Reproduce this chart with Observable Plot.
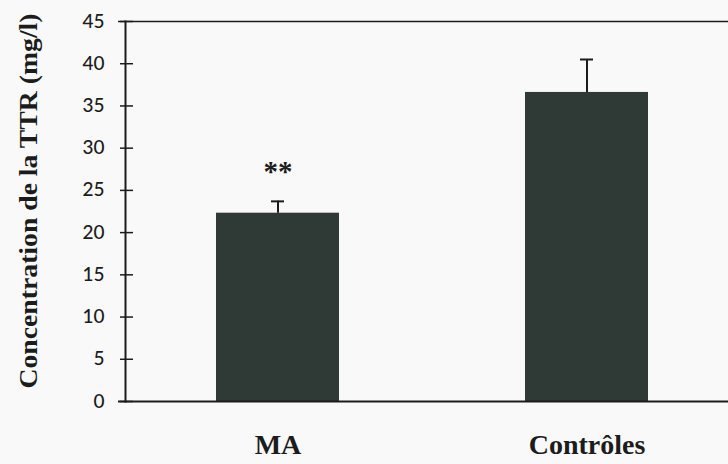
<!DOCTYPE html>
<html>
<head>
<meta charset="utf-8">
<script src="https://cdn.jsdelivr.net/npm/d3@7"></script>
<script src="https://cdn.jsdelivr.net/npm/@observablehq/plot@0.6"></script>
<style>
  html, body { margin: 0; padding: 0; background: #f8f9f8; overflow: hidden; }
  #chart svg { display: block; background: #f8f9f8; }
</style>
</head>
<body>
<div id="chart"></div>
<script>
// Data
const groups = ["MA", "Contrôles"];
const means = [22.3, 36.6];
const errors = [1.4, 3.9];
const significance = ["**", ""];
const yTicks = [0, 5, 10, 15, 20, 25, 30, 35, 40, 45];
const yLabel = "Concentration de la TTR (mg/l)";

const data = groups.map((g, i) => ({
  group: g,
  mean: means[i],
  upper: means[i] + errors[i],
  sig: significance[i]
}));

const serif = "'Liberation Serif', 'Times New Roman', serif";
const ink = "#1c1c1c";

const plot = Plot.plot({
  width: 728,
  height: 464,
  marginLeft: 125,
  marginRight: 0,
  marginTop: 21,
  marginBottom: 63,
  style: { background: "#f8f9f8", color: ink, overflow: "hidden" },
  x: { type: "band", domain: groups, range: [125, 739], paddingInner: 0.602, paddingOuter: 0.2945 },
  y: { domain: [0, 45] },
  marks: [
    Plot.barY(data, { x: "group", y: "mean", fill: "#2f3936" }),
    Plot.ruleX(data, { x: "group", y1: "mean", y2: "upper", stroke: ink, strokeWidth: 2 }),
    Plot.tickY(data, { x: "group", y: "upper", stroke: ink, strokeWidth: 2, insetLeft: 55, insetRight: 55 }),
    Plot.text(data, { x: "group", y: "upper", text: "sig", dy: -30, fontSize: 29, fontWeight: "bold", fontFamily: serif, fill: ink }),
    Plot.ruleY([0], { stroke: ink, strokeWidth: 2, insetLeft: -7 }),
    Plot.ruleY([45], { stroke: ink, strokeWidth: 1.5, insetLeft: -7 }),
    Plot.frame({ anchor: "left", stroke: ink, strokeWidth: 2 }),
    Plot.axisY({ ticks: yTicks, tickSize: 13, dx: 8, tickFormat: () => "", label: null, stroke: ink, strokeWidth: 1.5 }),
    Plot.axisY({ ticks: yTicks, tickSize: 0, tickPadding: 21, label: null, fontSize: 19, fontWeight: 500, fontFamily: "Lato, 'Liberation Sans', sans-serif", fill: ink }),
    Plot.axisX({ tickSize: 0, tickPadding: 33, label: null, fontSize: 28, fontWeight: "bold", fontFamily: serif, fill: ink, className: "xlab" }),
    Plot.text([yLabel], { frameAnchor: "left", textAnchor: "middle", lineAnchor: "middle", rotate: -90, dx: -97, dy: -10.5, fontSize: 26, fontWeight: "bold", fontFamily: serif, fill: ink, className: "ylab" })
  ]
});

document.getElementById("chart").appendChild(plot);
d3.select(plot).selectAll(".ylab text")
  .attr("textLength", 375)
  .attr("lengthAdjust", "spacingAndGlyphs");
</script>
</body>
</html>
